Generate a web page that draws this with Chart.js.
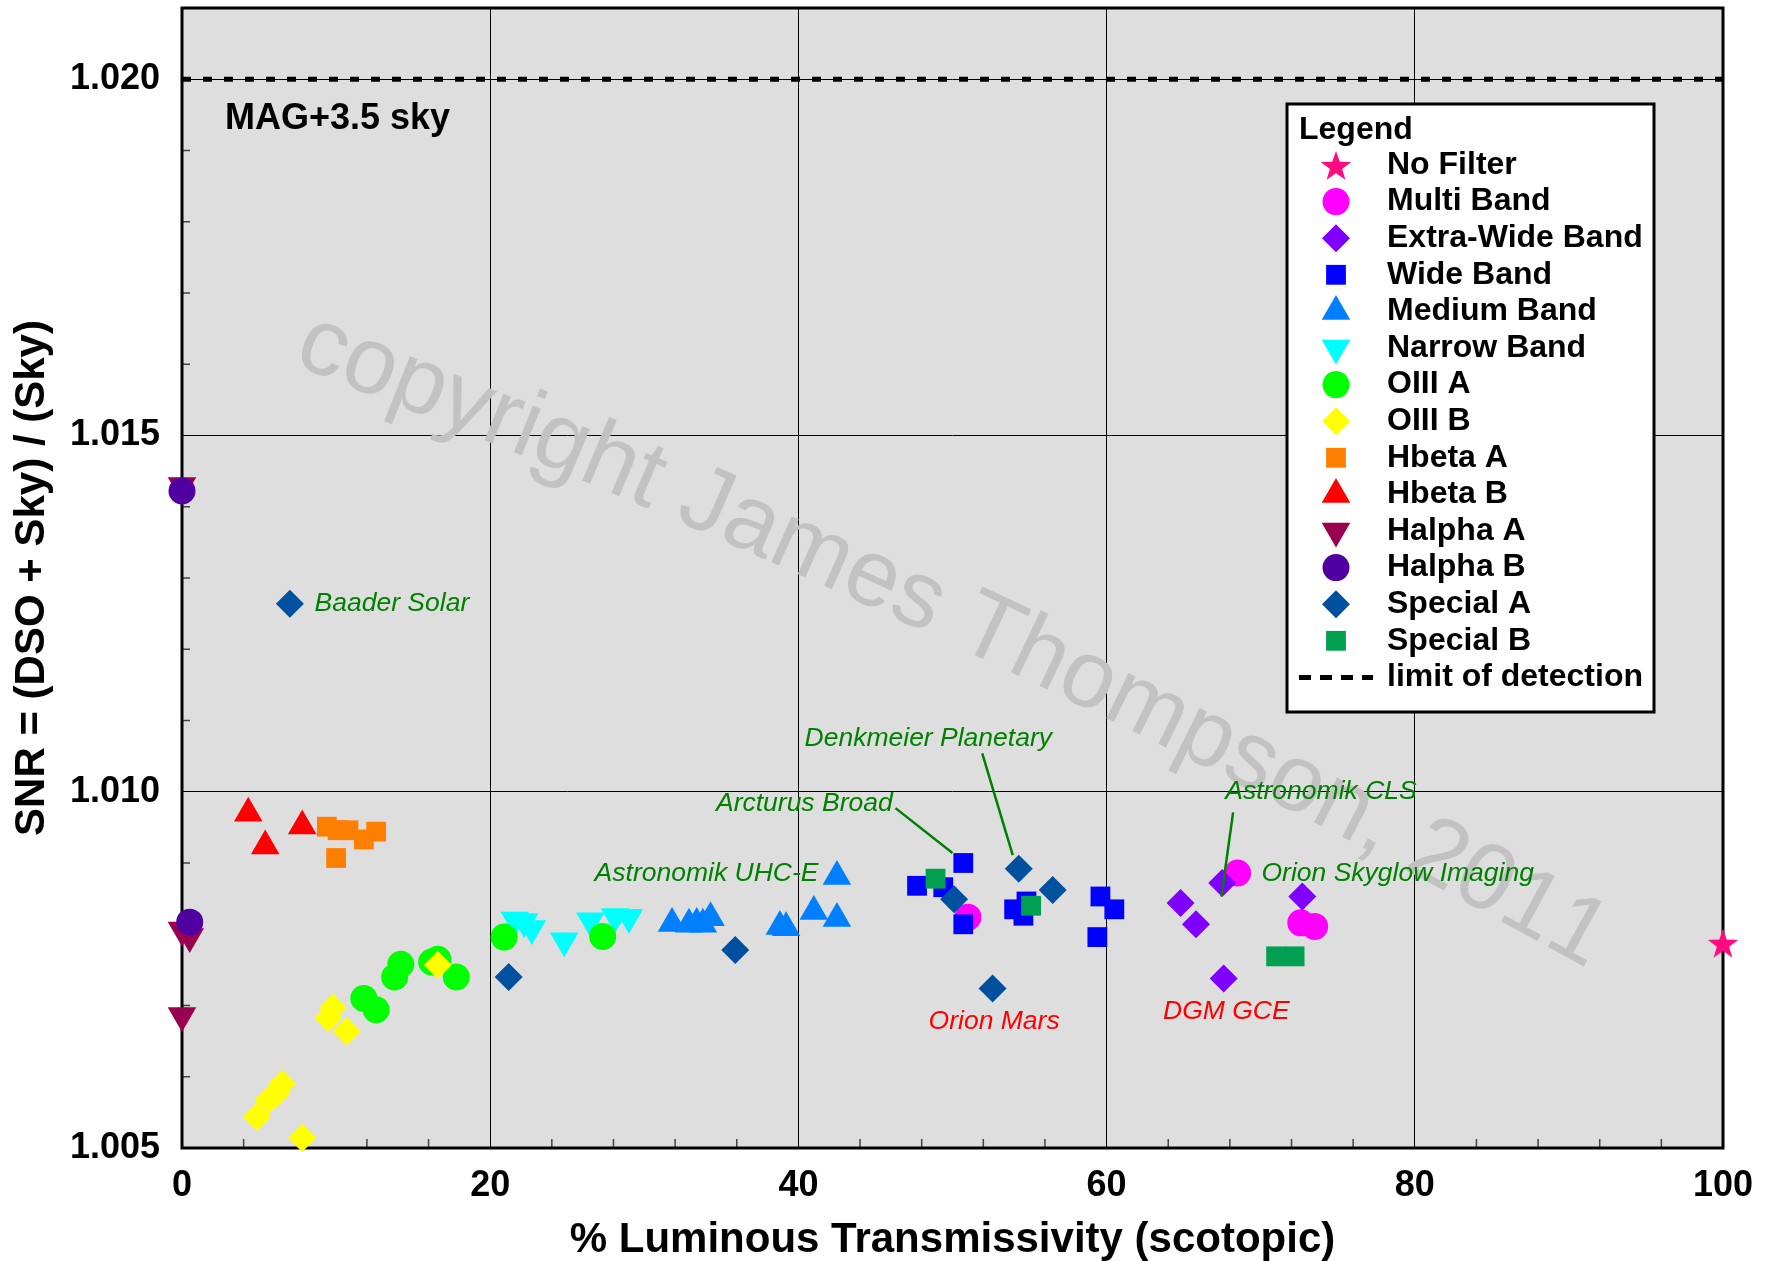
<!DOCTYPE html>
<html lang="en">
<head>
<meta charset="UTF-8" />
<title>SNR vs Luminous Transmissivity</title>
<script src="https://cdn.jsdelivr.net/npm/chart.js@4.4.1/dist/chart.umd.min.js"></script>
<style>
  html, body { margin: 0; padding: 0; background: #fff; }
</style>
</head>
<body>
<canvas id="myChart" width="1766" height="1261"></canvas>
<script>
// values (MAG+3.5 sky)
const seriesNames = ['No Filter', 'Multi Band', 'Extra-Wide Band', 'Wide Band', 'Medium Band',
  'Narrow Band', 'OIII A', 'OIII B', 'Hbeta A', 'Hbeta B', 'Halpha A', 'Halpha B', 'Special A', 'Special B'];

const noFilterX = [100];
const noFilterY = [1.00788];
const multiBandX = [51.0, 68.5, 72.6, 73.5];
const multiBandY = [1.00824, 1.00886, 1.00816, 1.00811];
const extraWideX = [64.8, 65.8, 67.5, 67.6, 72.7];
const extraWideY = [1.00844, 1.00814, 1.00872, 1.00738, 1.00853];
const wideBandX = [47.7, 49.4, 50.7, 50.7, 54.0, 54.8, 54.6, 59.6, 60.5, 59.4];
const wideBandY = [1.00868, 1.00866, 1.00900, 1.00814, 1.00835, 1.00846, 1.00826, 1.00853, 1.00835, 1.00796];
const mediumBandX = [31.8, 32.9, 33.4, 33.8, 34.3, 38.8, 39.2, 41.0, 42.5, 42.5];
const mediumBandY = [1.00815, 1.00814, 1.00815, 1.00814, 1.00823, 1.00811, 1.00809, 1.00832, 1.00822, 1.00881];
const narrowBandX = [21.6, 22.2, 22.7, 24.8, 26.5, 28.1, 29.0];
const narrowBandY = [1.00820, 1.00818, 1.00808, 1.00791, 1.00819, 1.00825, 1.00824];
const oiiiAX = [11.8, 12.6, 13.8, 14.2, 16.2, 16.6, 17.8, 20.9, 27.3];
const oiiiAY = [1.00710, 1.00694, 1.00740, 1.00758, 1.00761, 1.00765, 1.00740, 1.00796, 1.00797];
const oiiiBX = [4.85, 5.6, 6.1, 6.5, 7.8, 9.5, 9.8, 10.7, 16.6];
const oiiiBY = [1.00544, 1.00567, 1.00576, 1.00590, 1.00514, 1.00682, 1.00697, 1.00664, 1.00757];
const hbetaAX = [9.4, 10.1, 10.8, 11.8, 12.6, 10.0];
const hbetaAY = [1.00951, 1.00946, 1.00946, 1.00933, 1.00944, 1.00907];
const hbetaBX = [4.3, 5.4, 7.8];
const hbetaBY = [1.00970, 1.00924, 1.00952];
const halphaAX = [0.0, 0.0, 0.5, 0.0];
const halphaAY = [1.01430, 1.00806, 1.00797, 1.00686];
const halphaBX = [0.0, 0.5];
const halphaBY = [1.01422, 1.00817];
const specialAX = [7.0, 21.2, 35.9, 50.1, 52.6, 54.3, 56.5];
const specialAY = [1.01264, 1.00740, 1.00778, 1.00849, 1.00724, 1.00892, 1.00862];
const specialBX = [48.9, 55.1, 71.0, 72.2];
const specialBY = [1.00878, 1.00840, 1.00769, 1.00769];

const limitOfDetection = 1.020;
const xTickValues = [0, 20, 40, 60, 80, 100];
const yTickValues = [1.005, 1.010, 1.015, 1.020];
const xMinorStep = 4;
const yMinorStep = 0.001;

// named filters, placed in data units
const labelTexts = ['Baader Solar', 'Astronomik UHC-E', 'Arcturus Broad', 'Denkmeier Planetary',
  'Astronomik CLS', 'Orion Skyglow Imaging', 'Orion Mars', 'DGM GCE'];
const labelX = [8.6, 41.3, 34.65, 40.4, 67.7, 70.05, 52.7, 67.77];
const labelY = [1.01264, 1.00885, 1.00984, 1.01074, 1.01000, 1.00885, 1.00677, 1.00691];
const labelAlign = ['left', 'right', 'left', 'left', 'left', 'left', 'center', 'center'];
const labelBad = [false, false, false, false, false, false, true, true];
const leaderFrom = [[46.3, 1.00977], [51.93, 1.01054], [68.21, 1.00971]];
const leaderTo = [[50.0, 1.00914], [53.91, 1.00911], [67.45, 1.00853]];

const watermarkText = 'copyright James Thompson, 2011';

const seriesX = [noFilterX, multiBandX, extraWideX, wideBandX, mediumBandX, narrowBandX,
  oiiiAX, oiiiBX, hbetaAX, hbetaBX, halphaAX, halphaBX, specialAX, specialBX];
const seriesY = [noFilterY, multiBandY, extraWideY, wideBandY, mediumBandY, narrowBandY,
  oiiiAY, oiiiBY, hbetaAY, hbetaBY, halphaAY, halphaBY, specialAY, specialBY];

function starImage(color, size) {
  const c = document.createElement('canvas');
  c.width = size; c.height = size;
  const g = c.getContext('2d');
  g.fillStyle = color;
  g.beginPath();
  for (let i = 0; i < 10; i++) {
    const r = i % 2 ? size * 0.2 : size / 2;
    const a = -Math.PI / 2 + i * Math.PI / 5;
    g.lineTo(size / 2 + r * Math.cos(a), size / 2 + r * Math.sin(a) + size * 0.06);
  }
  g.closePath();
  g.fill();
  return c;
}

const markers = [
  { color: '#ff0a80', style: starImage('#ff0a80', 32), r: 16, rot: 0 },
  { color: '#ff00ff', style: 'circle', r: 13.5, rot: 0 },
  { color: '#8000ff', style: 'rectRot', r: 14, rot: 0 },
  { color: '#0000ff', style: 'rect', r: 14, rot: 0 },
  { color: '#0080ff', style: 'triangle', r: 16.5, rot: 0 },
  { color: '#00ffff', style: 'triangle', r: 16.5, rot: 180 },
  { color: '#00ff00', style: 'circle', r: 13.5, rot: 0 },
  { color: '#ffff00', style: 'rectRot', r: 14, rot: 0 },
  { color: '#ff8000', style: 'rect', r: 14, rot: 0 },
  { color: '#ff0000', style: 'triangle', r: 16.5, rot: 0 },
  { color: '#9a0050', style: 'triangle', r: 16.5, rot: 180 },
  { color: '#5000a0', style: 'circle', r: 13.5, rot: 0 },
  { color: '#0050a0', style: 'rectRot', r: 14, rot: 0 },
  { color: '#00a050', style: 'rect', r: 14, rot: 0 }
];

const FONT = '"Liberation Sans", Arial, sans-serif';
Chart.defaults.font.family = FONT;
Chart.defaults.color = '#000';

function drawWatermark(ctx, a) {
  ctx.save();
  ctx.font = '95px ' + FONT;
  ctx.fillStyle = '#c2c2c2';
  ctx.textBaseline = 'alphabetic';
  const total = ctx.measureText(watermarkText).width;
  let x = a.left + 110, y = a.top + 356;
  let theta = 21 * Math.PI / 180;
  const turn = (8 * Math.PI / 180) / total;
  for (const ch of watermarkText) {
    const w = ctx.measureText(ch).width;
    const mid = theta + turn * w / 2;
    ctx.save();
    ctx.translate(x, y);
    ctx.rotate(mid);
    ctx.fillText(ch, 0, 0);
    ctx.restore();
    x += w * Math.cos(mid);
    y += w * Math.sin(mid);
    theta += turn * w;
  }
  ctx.restore();
}

function drawLegend(chart) {
  const { ctx, chartArea: a } = chart;
  const left = a.right - 436, top = a.top + 96, w = 367, h = 608;
  ctx.save();
  ctx.fillStyle = '#fff';
  ctx.fillRect(left, top, w, h);
  ctx.strokeStyle = '#000';
  ctx.lineWidth = 3;
  ctx.strokeRect(left, top, w, h);
  ctx.font = 'bold 32px ' + FONT;
  ctx.textBaseline = 'middle';
  ctx.textAlign = 'left';
  ctx.fillStyle = '#000';
  ctx.fillText('Legend', left + 12, top + 26);
  seriesNames.forEach((name, i) => {
    const cy = top + 61 + i * 36.6;
    const m = markers[i];
    ctx.fillStyle = m.color;
    ctx.strokeStyle = m.color;
    Chart.helpers.drawPoint(ctx, { pointStyle: m.style, radius: m.r, rotation: m.rot, borderWidth: 0 }, left + 49, cy);
    ctx.fillStyle = '#000';
    ctx.fillText(name, left + 100, cy);
  });
  const cy = top + 61 + seriesNames.length * 36.6;
  ctx.strokeStyle = '#000';
  ctx.lineWidth = 5;
  ctx.setLineDash([12, 9]);
  ctx.beginPath();
  ctx.moveTo(left + 12, cy);
  ctx.lineTo(left + 86, cy);
  ctx.stroke();
  ctx.setLineDash([]);
  ctx.fillText('limit of detection', left + 100, cy);
  ctx.restore();
}

const decorPlugin = {
  id: 'decor',
  beforeDraw(chart) {
    const { ctx, chartArea: a } = chart;
    ctx.save();
    ctx.fillStyle = '#dedede';
    ctx.fillRect(a.left, a.top, a.right - a.left, a.bottom - a.top);
    ctx.restore();
  },
  beforeDatasetsDraw(chart) {
    const { ctx, chartArea: a, scales: { x, y } } = chart;
    drawWatermark(ctx, a);
    ctx.save();
    ctx.strokeStyle = '#444';
    ctx.lineWidth = 1.5;
    ctx.beginPath();
    for (let v = xMinorStep; v < 100; v += xMinorStep) {
      if (xTickValues.includes(v)) continue;
      const px = x.getPixelForValue(v);
      ctx.moveTo(px, a.bottom);
      ctx.lineTo(px, a.bottom - 9);
    }
    for (let k = 1; k < 16; k++) {
      const v = 1.005 + k * yMinorStep;
      if (k % 5 === 0) continue;
      const py = y.getPixelForValue(v);
      ctx.moveTo(a.left, py);
      ctx.lineTo(a.left + 8, py);
    }
    ctx.stroke();
    ctx.strokeStyle = '#000';
    ctx.lineWidth = 3;
    ctx.strokeRect(a.left, a.top, a.right - a.left, a.bottom - a.top);
    ctx.restore();
  },
  afterDatasetsDraw(chart) {
    const { ctx, chartArea: a, scales: { x, y } } = chart;
    ctx.save();
    ctx.strokeStyle = '#008000';
    ctx.lineWidth = 2.5;
    ctx.beginPath();
    leaderFrom.forEach((p, i) => {
      ctx.moveTo(x.getPixelForValue(p[0]), y.getPixelForValue(p[1]));
      ctx.lineTo(x.getPixelForValue(leaderTo[i][0]), y.getPixelForValue(leaderTo[i][1]));
    });
    ctx.stroke();
    ctx.font = 'italic 26.5px ' + FONT;
    ctx.textBaseline = 'middle';
    labelTexts.forEach((t, i) => {
      ctx.fillStyle = labelBad[i] ? '#ff0000' : '#008000';
      ctx.textAlign = labelAlign[i];
      ctx.fillText(t, x.getPixelForValue(labelX[i]), y.getPixelForValue(labelY[i]));
    });
    ctx.font = 'bold 36px ' + FONT;
    ctx.fillStyle = '#000';
    ctx.textAlign = 'left';
    ctx.textBaseline = 'alphabetic';
    ctx.fillText('MAG+3.5 sky', a.left + 43, a.top + 121);
    ctx.restore();
    drawLegend(chart);
  }
};

const datasets = seriesNames.map((name, i) => ({
  label: name,
  data: seriesX[i].map((v, j) => ({ x: v, y: seriesY[i][j] })),
  pointStyle: markers[i].style,
  pointRadius: markers[i].r,
  pointHoverRadius: markers[i].r,
  pointRotation: markers[i].rot,
  backgroundColor: markers[i].color,
  borderColor: markers[i].color,
  borderWidth: 0,
  pointBorderWidth: 0,
  order: seriesNames.length - i + 1,
  clip: false
}));

datasets.push({
  label: 'limit of detection',
  data: [{ x: 0, y: limitOfDetection }, { x: 100, y: limitOfDetection }],
  showLine: true,
  borderColor: '#000',
  borderWidth: 5,
  borderDash: [9, 12],
  pointRadius: 0,
  order: 0
});

function noEdgePadding(s) {
  s.paddingTop = 0;
  s.paddingBottom = 0;
  s.paddingLeft = 0;
  s.paddingRight = 0;
}

new Chart(document.getElementById('myChart'), {
  type: 'scatter',
  data: { datasets },
  options: {
    responsive: false,
    animation: false,
    events: [],
    devicePixelRatio: 1,
    layout: { autoPadding: false, padding: { top: 8, right: 43, bottom: 0, left: 0 } },
    plugins: { legend: { display: false }, tooltip: { enabled: false } },
    scales: {
      x: {
        type: 'linear',
        min: 0, max: 100,
        afterFit: s => { s.height = 113; noEdgePadding(s); },
        afterBuildTicks: s => { s.ticks = xTickValues.map(v => ({ value: v })); },
        grid: { color: '#000', lineWidth: 1, drawTicks: false },
        border: { display: false },
        ticks: { font: { size: 36, weight: 'bold' }, color: '#000', padding: 16, maxRotation: 0 },
        title: {
          display: true, text: '% Luminous Transmissivity (scotopic)',
          font: { size: 42, weight: 'bold', lineHeight: 1.0 }, color: '#000', padding: { top: 0, bottom: 0 }
        }
      },
      y: {
        type: 'linear',
        min: 1.005, max: 1.021,
        afterFit: s => { s.width = 182; noEdgePadding(s); },
        afterBuildTicks: s => { s.ticks = yTickValues.map(v => ({ value: v })); },
        grid: { color: '#000', lineWidth: 1, drawTicks: false },
        border: { display: false },
        ticks: { callback: v => Number(v).toFixed(3), font: { size: 36, weight: 'bold' }, color: '#000', padding: 22 },
        title: {
          display: true, text: 'SNR = (DSO + Sky) / (Sky)',
          font: { size: 42, weight: 'bold' }, color: '#000', padding: { top: 7, bottom: 0 }
        }
      }
    }
  },
  plugins: [decorPlugin]
});
</script>
</body>
</html>
